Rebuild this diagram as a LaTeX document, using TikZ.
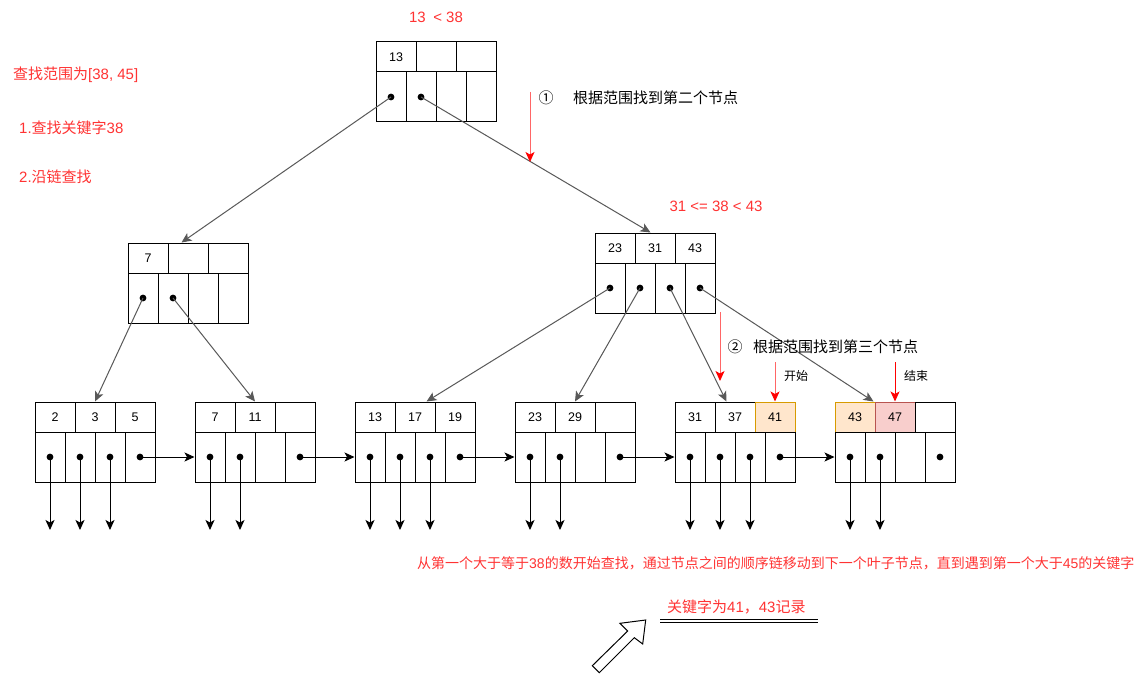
\documentclass[tikz,border=0pt]{standalone}
\usepackage{fontspec}
\setmainfont{Liberation Sans}
\newfontfamily\cjk{Noto Sans CJK SC}
\usetikzlibrary{arrows.meta,calc}
\definecolor{txtred}{HTML}{FF3333}
\definecolor{lred}{HTML}{FF6666}
\definecolor{edgegray}{HTML}{595959}
\definecolor{ofill}{HTML}{FFE6CC}
\definecolor{ostroke}{HTML}{D79B00}
\definecolor{rfill}{HTML}{F8CECC}
\definecolor{rstroke}{HTML}{B85450}
\tikzset{
  kcell/.style={draw=black, line width=1pt, minimum width=40pt, minimum height=30pt, inner sep=0pt, font=\fontsize{12.5}{14}\selectfont},
  pcell/.style={draw=black, line width=1pt, minimum width=30pt, minimum height=50pt, inner sep=0pt},
  orangecell/.style={fill=ofill, draw=ostroke},
  redcell/.style={fill=rfill, draw=rstroke},
  tip/.style={-{Stealth[length=10pt,width=9pt,inset=2.5pt]}},
  tedge/.style={draw=edgegray, line width=1pt, tip},
  link/.style={draw=black, line width=1pt, tip},
  redarrow/.style={draw=lred, line width=1pt, -{Stealth[length=10pt,width=9pt,inset=2.5pt,color=red]}},
  lbl/.style={text=txtred, font=\fontsize{15}{18}\selectfont, inner sep=0pt},
  lblsmall/.style={text=txtred, font=\fontsize{14}{17}\selectfont, inner sep=0pt},
  note/.style={text=black, font=\cjk\fontsize{15}{18}\selectfont, inner sep=0pt},
  notesmall/.style={text=black, font=\cjk\fontsize{12}{14}\selectfont, inner sep=0pt},
}
\newcommand\bpnode[9]{%
  \node[kcell,#7] (#1-k1) at ({#2+20},{#3+15}) {#4};
  \node[kcell,#8] (#1-k2) at ({#2+60},{#3+15}) {#5};
  \node[kcell,#9] (#1-k3) at ({#2+100},{#3+15}) {#6};
  \foreach \i in {1,...,4} {\node[pcell] (#1-p\i) at ({#2+30*\i-15},{#3+55}) {};}
}
\newcommand\pdots[2]{\foreach \i in {#2} {\fill (#1-p\i.center) circle (3.4pt);}}
\newcommand\downs[2]{\foreach \i in {#2} {\draw[link] (#1-p\i.center) -- ++(0,73);}}
\begin{document}
\begin{tikzpicture}[x=1pt,y=-1pt]
\useasboundingbox (0,0) rectangle (1145,674);
\fill[white] (0,0) rectangle (1145,674);

% internal nodes
\bpnode{root}{376}{42}{13}{}{}{}{}{}
\bpnode{n7}{128}{243}{7}{}{}{}{}{}
\bpnode{n23}{595}{233}{23}{31}{43}{}{}{}
% leaves
\bpnode{l1}{35}{402}{2}{3}{5}{}{}{}
\bpnode{l2}{195}{402}{7}{11}{}{}{}{}
\bpnode{l3}{355}{402}{13}{17}{19}{}{}{}
\bpnode{l4}{515}{402}{23}{29}{}{}{}{}
\bpnode{l5}{675}{402}{31}{37}{41}{}{}{orangecell}
\bpnode{l6}{835}{402}{43}{47}{}{orangecell}{redcell}{}

% dots
\pdots{root}{1,2}
\pdots{n7}{1,2}
\pdots{n23}{1,2,3,4}
\pdots{l1}{1,2,3,4}
\pdots{l2}{1,2,4}
\pdots{l3}{1,2,3,4}
\pdots{l4}{1,2,4}
\pdots{l5}{1,2,3,4}
\pdots{l6}{1,2,4}

% tree edges
\draw[tedge] (root-p1.center) -- ($(n7-k2.north west)+(14,0)$);
\draw[tedge] (root-p2.center) -- ($(n23-k2.north west)+(16,0)$);
\draw[tedge] (n7-p1.center) -- (l1-k2.north);
\draw[tedge] (n7-p2.center) -- (l2-k2.north);
\draw[tedge] (n23-p1.center) -- ($(l3-k2.north west)+(32,0)$);
\draw[tedge] (n23-p2.center) -- (l4-k2.north);
\draw[tedge] (n23-p3.center) -- ($(l5-k2.north west)+(12,0)$);
\draw[tedge] (n23-p4.center) -- ($(l6-k1.north east)+(-2,0)$);

% leaf chain
\draw[link] (l1-p4.center) -- (l2-p1.west);
\draw[link] (l2-p4.center) -- (l3-p1.west);
\draw[link] (l3-p4.center) -- (l4-p1.west);
\draw[link] (l4-p4.center) -- (l5-p1.west);
\draw[link] (l5-p4.center) -- (l6-p1.west);

% down pointers
\downs{l1}{1,2,3}
\downs{l2}{1,2}
\downs{l3}{1,2,3}
\downs{l4}{1,2}
\downs{l5}{1,2,3}
\downs{l6}{1,2}

% red search arrows
\coordinate (r1s) at (530,92);
\coordinate (r1e) at (530,162);
\coordinate (r2s) at (720,312);
\coordinate (r2e) at (720,381);
\coordinate (sts) at (775,362);
\coordinate (ens) at (895,362);
\draw[redarrow] (r1s) -- (r1e);
\draw[redarrow] (r2s) -- (r2e);
\draw[redarrow] (sts) -- (l5-k3.north);
\draw[redarrow, draw=red] (ens) -- (l6-k2.north);

% labels
\node[lbl] (cmp1) at (436,17) {13\hspace{0.5em}< 38};
\node[lbl] (cmp2) at (716,206) {31 <= 38 < 43};
\node[lbl, anchor=west] (range) at (13,75) {{\cjk 查找范围为}[38, 45]};
\node[lbl, anchor=west] (step1) at (19,128) {1.{\cjk 查找关键字}38};
\node[lbl, anchor=west] (step2) at (19,177) {2.{\cjk 沿链查找}};
\node[note] (c1) at (546,98) {①};
\node[note, anchor=west] (n1) at (573,98) {根据范围找到第二个节点};
\node[note] (c2) at (735,347) {②};
\node[note, anchor=west] (n2) at (753,347) {根据范围找到第三个节点};
\node[notesmall, anchor=west] (start) at (784,376) {开始};
\node[notesmall, anchor=west] (finish) at (904,376) {结束};
\node[lblsmall, anchor=west] (desc) at (417,563) {{\cjk 从第一个大于等于}38{\cjk 的数开始查找，通过节点之间的顺序链移动到下一个叶子节点，直到遇到第一个大于}45{\cjk 的关键字}};
\node[lbl, anchor=west] (result) at (667,607) {{\cjk 关键字为}41{\cjk ，}43{\cjk 记录}};

% double underline
\draw[line width=1pt] (660,619) -- (818,619);
\draw[line width=1pt] (660,622.5) -- (818,622.5);

% hollow block arrow
\draw[line width=1pt, fill=white] (645.7,620) -- (620,623.3) -- (627.7,631) -- (592.3,665.7) -- (599.3,672.7) -- (634.3,637.7) -- (642.7,644) -- cycle;
\end{tikzpicture}
\end{document}
